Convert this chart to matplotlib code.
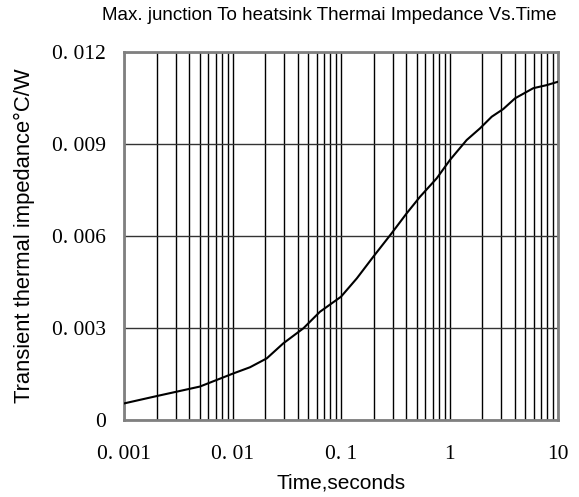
import matplotlib
matplotlib.use('Agg')
import matplotlib.pyplot as plt
import numpy as np
from matplotlib.ticker import FixedLocator, LogLocator, NullFormatter

time_s = [0.001, 0.002, 0.005, 0.0102, 0.0145, 0.0207, 0.0294, 0.045, 0.064,
          0.1, 0.14, 0.199, 0.293, 0.403, 0.535, 0.762, 1.01, 1.44, 1.91,
          2.45, 3.13, 4.02, 5.92, 7.87, 10.0]
zth = [0.00054, 0.00078, 0.00109, 0.00152, 0.00172, 0.00201, 0.0025, 0.00299,
       0.00353, 0.00402, 0.00462, 0.00533, 0.00609, 0.00674, 0.00728, 0.00788,
       0.00848, 0.00913, 0.00951, 0.00989, 0.01014, 0.01049, 0.01082, 0.01092,
       0.01103]

x_ticks = [0.001, 0.01, 0.1, 1, 10]
x_labels = ['0. 001', '0. 01', '0. 1', '1', '10']
y_ticks = [0, 0.003, 0.006, 0.009, 0.012]
y_labels = ['0', '0. 003', '0. 006', '0. 009', '0. 012']

fig = plt.figure(figsize=(5.79, 4.97), dpi=100)
ax = fig.add_axes([124/579, 77/497, 434/579, 368/497])

ax.plot(time_s, zth, color='black', lw=1.5, zorder=3)

ax.set_xscale('log')
ax.set_xlim(0.001, 10)
ax.set_ylim(0, 0.012)

ax.xaxis.set_major_locator(FixedLocator(x_ticks))
ax.xaxis.set_minor_locator(LogLocator(base=10, subs=np.arange(2, 10)))
ax.xaxis.set_minor_formatter(NullFormatter())
ax.set_xticks(x_ticks, x_labels)
ax.set_yticks(y_ticks, y_labels)

ax.grid(True, which='both', axis='x', color='black', lw=1.0)
ax.grid(True, which='major', axis='y', color='#333333', lw=1.0)
ax.tick_params(which='both', length=0)
ax.tick_params(axis='y', pad=13)
ax.tick_params(axis='x', pad=18)
for lbl in ax.get_xticklabels() + ax.get_yticklabels():
    lbl.set_family('Liberation Serif')
    lbl.set_fontsize(15.5)

for s in ax.spines.values():
    s.set_color('#808080')
    s.set_linewidth(2)

ax.set_xlabel('Time,seconds', family='Liberation Sans', fontsize=15, labelpad=7)
ax.set_ylabel('Transient thermal impedance°C/W', family='Liberation Sans',
              fontsize=15.8, labelpad=12)
fig.text(557/579, 1 - 16/497, 'Max. junction To heatsink Thermai Impedance Vs.Time',
         ha='right', va='center', family='Liberation Sans', fontsize=13.5)

fig.savefig('out.png', dpi=100)
